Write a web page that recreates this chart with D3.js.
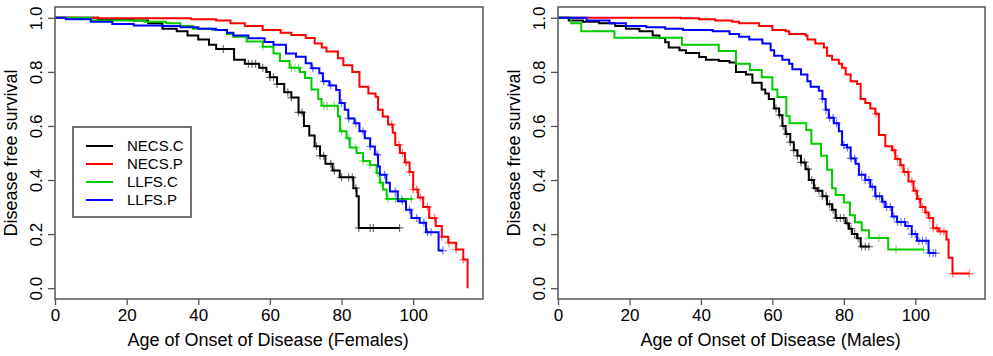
<!DOCTYPE html>
<html>
<head>
<meta charset="utf-8">
<script src="https://cdn.jsdelivr.net/npm/d3@7"></script>
<style>
  body { margin: 0; background: #fff; }
  text { font-family: "Liberation Sans", Arial, sans-serif; fill: #000; }
</style>
</head>
<body>
<script>
// Kaplan-Meier steps: [age, survival]; last entry is the end of follow-up
const fNecsC = [[0,1],[12,0.995],[22,0.99],[26,0.98],[30,0.96],[34,0.95],[37,0.935],[40,0.92],[43,0.9],[45,0.885],[50,0.845],[53,0.83],[57,0.815],[59,0.8],[60,0.78],[62,0.755],[64,0.725],[66,0.705],[68,0.65],[69.5,0.6],[71,0.565],[72.5,0.525],[74,0.49],[75.5,0.46],[77.5,0.435],[79.5,0.41],[83.3,0.37],[84.2,0.34],[84.8,0.223],[96.2,0.223]]
const fNecsP = [[0,1],[12,0.998],[38,0.995],[45,0.99],[49,0.98],[53,0.97],[58,0.955],[63,0.945],[66,0.936],[70,0.925],[72.5,0.905],[74.5,0.89],[75.8,0.875],[79,0.85],[80.5,0.825],[83,0.8],[85,0.745],[87.5,0.72],[89.5,0.708],[90.2,0.66],[91.5,0.635],[93,0.605],[94.3,0.575],[95,0.53],[96.3,0.5],[97.7,0.465],[99,0.43],[100,0.365],[101.4,0.335],[102.8,0.3],[104.5,0.26],[106.3,0.23],[108,0.19],[109.8,0.168],[112,0.143],[114,0.106],[115.2,0]]
const fLlfsC = [[0,1],[10,0.99],[25,0.985],[31,0.98],[35,0.97],[38.5,0.96],[44,0.955],[48,0.94],[49.8,0.93],[53.5,0.912],[58,0.893],[61,0.868],[62.8,0.84],[65.5,0.815],[68.4,0.8],[69.8,0.777],[71.6,0.735],[73.5,0.7],[74.4,0.675],[79,0.635],[79.6,0.58],[81.4,0.555],[82.3,0.52],[84.2,0.5],[86,0.47],[88,0.456],[89.8,0.426],[90.7,0.39],[91.6,0.365],[92.6,0.33],[99.8,0.33]]
const fLlfsP = [[0,1],[3,0.995],[10,0.985],[16,0.977],[22,0.972],[30,0.97],[35,0.965],[40,0.96],[45,0.955],[48,0.945],[49.8,0.935],[54,0.924],[58.5,0.911],[61,0.9],[64.5,0.868],[67.3,0.856],[70,0.832],[71.6,0.813],[73.8,0.795],[74.8,0.765],[76.6,0.75],[78.5,0.733],[79.5,0.685],[80.9,0.66],[81.9,0.628],[83.6,0.61],[85,0.58],[86.5,0.555],[88,0.524],[89.3,0.494],[90.2,0.45],[90.7,0.42],[92.5,0.39],[93.5,0.358],[95.7,0.322],[98,0.29],[99.5,0.26],[101.8,0.242],[103.6,0.207],[107.1,0.139],[108.3,0.139]]

const mNecsC = [[0,1],[3,0.99],[7,0.985],[11.5,0.98],[16,0.97],[19,0.96],[22.8,0.95],[26.5,0.935],[28.4,0.925],[30,0.91],[31,0.89],[34,0.88],[35.8,0.87],[39.5,0.855],[41.4,0.845],[45,0.84],[48,0.835],[49.8,0.8],[52.6,0.79],[54.4,0.76],[57,0.735],[58,0.72],[59,0.7],[60.5,0.665],[61.9,0.64],[62.8,0.6],[63.7,0.57],[65,0.54],[66,0.51],[67,0.49],[68,0.465],[69.3,0.44],[70.2,0.4],[71.6,0.37],[72.6,0.36],[74,0.34],[75.3,0.31],[76.7,0.29],[77.7,0.26],[80.5,0.24],[81.4,0.22],[82.3,0.2],[83.7,0.185],[84.7,0.154],[87.3,0.154]]
const mNecsP = [[0,1],[34.4,0.998],[39.5,0.995],[44,0.99],[48.8,0.985],[50.7,0.98],[56.3,0.97],[60,0.955],[63.7,0.95],[64.7,0.94],[69.3,0.935],[69.8,0.92],[72,0.905],[74.4,0.89],[75.3,0.86],[76.7,0.845],[78.6,0.83],[79.5,0.815],[80.5,0.79],[81.9,0.765],[83.7,0.755],[84.7,0.7],[86,0.685],[87.4,0.665],[88.8,0.645],[89.8,0.567],[91.6,0.525],[93.5,0.51],[94.4,0.478],[95.8,0.455],[96.7,0.43],[98.1,0.395],[99.5,0.36],[100.5,0.33],[101.4,0.3],[102.8,0.28],[103.7,0.26],[105,0.222],[106.5,0.21],[108.7,0.18],[109.3,0.113],[110.4,0.054],[115.1,0.054]]
const mLlfsC = [[0,1],[3.7,0.98],[6.5,0.95],[15.8,0.926],[34.7,0.9],[45,0.877],[49.8,0.83],[53.7,0.807],[57,0.78],[60,0.735],[61.4,0.707],[63.9,0.637],[64.8,0.61],[69.5,0.585],[70.9,0.534],[73.6,0.49],[75.3,0.438],[76.7,0.37],[77.7,0.345],[80,0.317],[81.7,0.27],[83.1,0.244],[85,0.214],[87,0.186],[92.4,0.143],[102.3,0.143]]
const mLlfsP = [[0,1],[8,0.99],[14.4,0.98],[19,0.97],[24.7,0.965],[30,0.96],[35,0.955],[43.3,0.95],[48,0.94],[50.7,0.93],[53.5,0.92],[57.2,0.905],[59.5,0.88],[60.5,0.86],[62.8,0.845],[64.7,0.83],[65.6,0.81],[68,0.79],[69.8,0.765],[70.7,0.745],[73,0.73],[74,0.7],[74.9,0.66],[75.8,0.63],[77.2,0.61],[78.6,0.58],[79.5,0.53],[80.9,0.52],[81.9,0.48],[83.3,0.46],[84.2,0.42],[86,0.4],[87.4,0.375],[88.8,0.34],[90.7,0.32],[91.6,0.3],[93.5,0.265],[94.9,0.245],[97.2,0.23],[99,0.2],[100.5,0.175],[103.7,0.13],[105.7,0.13]]

// censoring times ("+" marks)
const fCensNecsC = [47,54,55,56,58,60,61,62,65,66,68,69,73,74,75,77,78,80,82,83,84,84.8,88,88.9,96.2]
const fCensNecsP = [94,96,97,98,99,100,101,102,104,106,108,110,112,114]
const fCensLlfsC = [58,66,67,68,75,76,78,80,82,84,86,88,90,91,93,95,96.8,99.5]
const fCensLlfsP = [72,75,77,80,82,84,86,88,90,92,95,97,99,101,103,104,105,108.3]
const mCensNecsC = [61,62,63,64,65,66,67,68,69,70,71,72,73,74,75,76,77,78,79,80,81,82,83,84,85,86,87]
const mCensNecsP = [89,94,95,96,97,98,99,100,101,102,103,104,105,106,107,108,110.5,115.1]
const mCensLlfsC = [89.8,94.6,102.3]
const mCensLlfsP = [74,75,76,77,78,80,81,82,83,85,86,87,88,89,90,91,92,93,94,95,96,97,98,99,100,101,102,103,104,105,105.7]

const groups = ["NECS.C", "NECS.P", "LLFS.C", "LLFS.P"]
const colors = ["#000000", "#ff0000", "#00cc00", "#0000ff"]
const xTicks = [0, 20, 40, 60, 80, 100]
const yTicks = [0, 0.2, 0.4, 0.6, 0.8, 1.0]

const svg = d3.select("body").append("svg")
    .attr("width", 993)
    .attr("height", 356)

function survAt(steps, t) {
    const i = d3.bisector((d) => d[0]).right(steps, t) - 1
    return steps[Math.max(0, i)][1]
}

function panel(left, right, title, series, censors, legend) {
    const x = d3.scaleLinear().domain([0, 119.5]).range([left, right])
    const y = d3.scaleLinear().domain([-0.04, 1.04]).range([299, 7])
    const g = svg.append("g")

    const line = d3.line()
        .x((d) => x(d[0]))
        .y((d) => y(d[1]))
        .curve(d3.curveStepAfter)

    series.forEach((s, i) => {
        g.append("path")
            .attr("d", line(s))
            .attr("fill", "none")
            .attr("stroke", colors[i])
            .attr("stroke-width", 2)
        g.selectAll(null)
            .data(censors[i])
            .join("path")
            .attr("d", (t) => {
                const cx = x(t), cy = y(survAt(s, t))
                return `M${cx - 4},${cy}H${cx + 4}M${cx},${cy - 4}V${cy + 4}`
            })
            .attr("stroke", colors[i])
            .attr("stroke-opacity", 0.55)
            .attr("stroke-width", 1.2)
    })

    // box
    g.append("rect")
        .attr("x", left).attr("y", 7)
        .attr("width", right - left).attr("height", 292)
        .attr("fill", "none")
        .attr("stroke", "#555")
        .attr("stroke-width", 1.5)

    const ax = g.append("g")
        .attr("transform", "translate(0,299)")
        .call(d3.axisBottom(x).tickValues(xTicks).tickSize(6).tickPadding(4).tickFormat(d3.format("d")))
    const ay = g.append("g")
        .attr("transform", `translate(${left},0)`)
        .call(d3.axisLeft(y).tickValues(yTicks).tickSize(7).tickFormat(d3.format(".1f")))
    ax.select(".domain").remove()
    ay.select(".domain").remove()
    ax.selectAll("line").attr("stroke", "#555").attr("stroke-width", 1.3)
    ay.selectAll("line").attr("stroke", "#555").attr("stroke-width", 1.3)
    ax.selectAll("text")
        .attr("font-size", 17)
        .attr("font-family", "Liberation Sans, Arial, sans-serif")
        .attr("fill", "#000")
    ay.selectAll("text")
        .attr("font-size", 17)
        .attr("font-family", "Liberation Sans, Arial, sans-serif")
        .attr("fill", "#000")
        .attr("text-anchor", "middle")
        .attr("x", null)
        .attr("transform", "translate(-19,0) rotate(-90)")
        .attr("y", 0)
        .attr("dy", "0.36em")

    g.append("text")
        .attr("x", x(59.5))
        .attr("y", 346)
        .attr("text-anchor", "middle")
        .attr("font-size", 18)
        .text(title)
    g.append("text")
        .attr("transform", `translate(${left - 44},${y(0.5)}) rotate(-90)`)
        .attr("text-anchor", "middle")
        .attr("dy", "0.36em")
        .attr("font-size", 18)
        .text("Disease free survival")

    if (legend) {
        const lg = g.append("g")
        lg.append("rect")
            .attr("x", 73).attr("y", 127)
            .attr("width", 118).attr("height", 90)
            .attr("fill", "#fff")
            .attr("stroke", "#444")
            .attr("stroke-width", 1.5)
        groups.forEach((name, i) => {
            const ly = 146 + i * 18
            lg.append("line")
                .attr("x1", 86).attr("x2", 113)
                .attr("y1", ly).attr("y2", ly)
                .attr("stroke", colors[i])
                .attr("stroke-width", 2)
            lg.append("text")
                .attr("x", 127).attr("y", ly)
                .attr("dy", "0.36em")
                .attr("font-size", 15)
                .text(name)
        })
    }
}

panel(55, 483, "Age of Onset of Disease (Females)",
    [fNecsC, fNecsP, fLlfsC, fLlfsP],
    [fCensNecsC, fCensNecsP, fCensLlfsC, fCensLlfsP], true)
panel(558, 985, "Age of Onset of Disease (Males)",
    [mNecsC, mNecsP, mLlfsC, mLlfsP],
    [mCensNecsC, mCensNecsP, mCensLlfsC, mCensLlfsP], false)
</script>
</body>
</html>
